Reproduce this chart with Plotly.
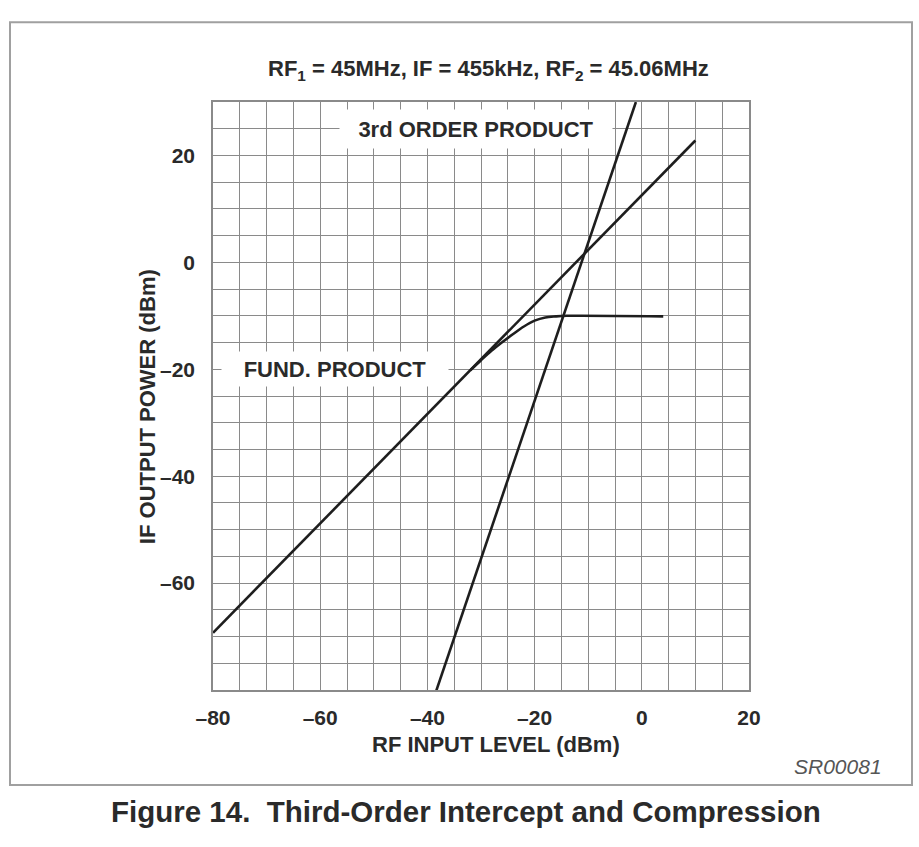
import plotly.graph_objects as go

# ---- data ----
fund_x = [-80, 10]
fund_y = [-69.3, 22.8]

third_x = [-38.4, -1.1]
third_y = [-80.3, 30.0]

comp_x = [-32, -30, -28, -26, -24, -22, -20, -18, -16, -14, 4]
comp_y = [-20.2, -18.3, -16.5, -14.9, -13.4, -12.0, -10.9, -10.3, -10.1, -10.0, -10.1]

x_ticks = [-80, -60, -40, -20, 0, 20]
x_tick_text = ["–80", "–60", "–40", "–20", "0", "20"]
y_ticks = [-60, -40, -20, 0, 20]
y_tick_text = ["–60", "–40", "–20", "0", "20"]

FONT = "Liberation Sans, Arial, Helvetica, sans-serif"
INK = "#2a2a2a"
GRID = "#8a8a8a"

fig = go.Figure()
line_style = dict(color="#1e1e1e", width=2.6)
fig.add_trace(go.Scatter(x=fund_x, y=fund_y, mode="lines", line=line_style,
                         showlegend=False, hoverinfo="skip"))
fig.add_trace(go.Scatter(x=third_x, y=third_y, mode="lines", line=line_style,
                         showlegend=False, hoverinfo="skip"))
fig.add_trace(go.Scatter(x=comp_x, y=comp_y, mode="lines",
                         line=dict(color="#1e1e1e", width=2.6, shape="spline"),
                         showlegend=False, hoverinfo="skip"))

axis_common = dict(
    showgrid=True, gridcolor=GRID, gridwidth=1.4,
    showline=True, linecolor=GRID, linewidth=1.6, mirror=True,
    zeroline=False, ticks="", tickmode="array",
    tickfont=dict(family=FONT, size=21, color=INK, weight="bold"),
    minor=dict(showgrid=True, gridcolor=GRID, gridwidth=1.4, dtick=5, tick0=0),
)

fig.update_xaxes(range=[-80, 20], tickvals=x_ticks, ticktext=x_tick_text,
                 ticklabelstandoff=8, **axis_common)
fig.update_yaxes(range=[-80, 30], tickvals=y_ticks, ticktext=y_tick_text,
                 ticklabelstandoff=12, **axis_common)

def px_x(p):
    return (p - 213) / 536.0

def px_y(p):
    return (690 - p) / 588.3

annos = [
    dict(text="RF<sub>1</sub> = 45MHz, IF = 455kHz, RF<sub>2</sub> = 45.06MHz",
         x=px_x(488), y=px_y(70), size=22, bold=True),
    dict(text="RF INPUT LEVEL (dBm)", x=px_x(496), y=px_y(745), size=22, bold=True),
    dict(text="IF OUTPUT POWER (dBm)", x=px_x(147), y=px_y(407), size=22, bold=True, angle=-90),
    dict(text="<i>SR00081</i>", x=px_x(838), y=px_y(767), size=21, bold=False, color="#555555"),
    dict(text="Figure 14.  Third-Order Intercept and Compression",
         x=px_x(466), y=px_y(812), size=29.5, bold=True),
]
for a in annos:
    fig.add_annotation(
        text=a["text"], x=a["x"], y=a["y"], xref="paper", yref="paper",
        showarrow=False, xanchor="center", yanchor="middle",
        textangle=a.get("angle", 0),
        font=dict(family=FONT, size=a["size"], color=a.get("color", INK),
                  weight="bold" if a["bold"] else "normal"),
    )

# in-plot labels with white backgrounds
fig.add_annotation(text="3rd ORDER PRODUCT", x=-30.9, y=24.9, xref="x", yref="y",
                   showarrow=False, bgcolor="white", borderpad=0, width=272, height=38,
                   font=dict(family=FONT, size=22, color=INK, weight="bold"))
fig.add_annotation(text="FUND. PRODUCT", x=-57.2, y=-20, xref="x", yref="y",
                   showarrow=False, bgcolor="white", borderpad=0, width=226, height=34,
                   font=dict(family=FONT, size=22, color=INK, weight="bold"))

# outer frame
fig.add_shape(type="rect", xref="paper", yref="paper",
              x0=px_x(10), x1=px_x(912), y0=px_y(785), y1=px_y(22),
              line=dict(color="#a0a0a0", width=2), layer="below")

fig.update_layout(
    width=919, height=847,
    margin=dict(l=213, r=170, t=102, b=157),
    paper_bgcolor="white", plot_bgcolor="white",
    showlegend=False,
)

fig.write_html("out.html")
